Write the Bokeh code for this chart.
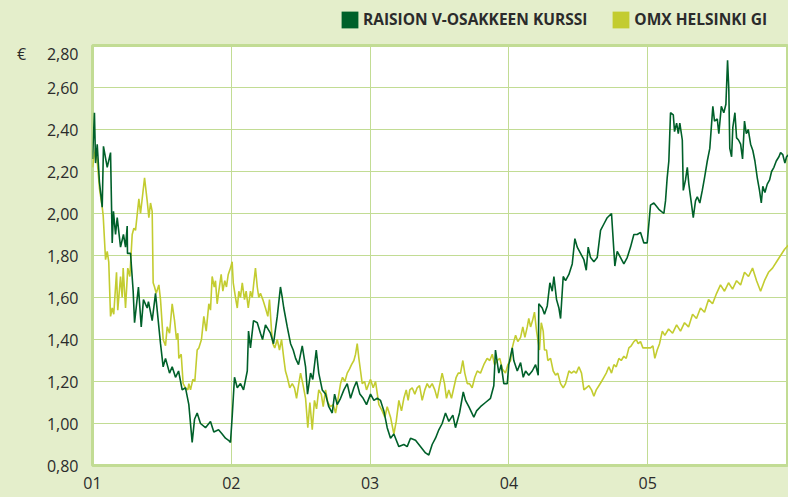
from bokeh.plotting import figure
from bokeh.layouts import column
from bokeh.models import (Range1d, FixedTicker, CustomJSTickFormatter, Legend, LegendItem)
from bokeh.embed import file_html
from bokeh.resources import INLINE

# --- data: time in years since start of 2001, prices in euro ---
raisio_t = [0.000, 0.014, 0.022, 0.034, 0.050, 0.070, 0.079, 0.106, 0.130, 0.142, 0.151, 0.166, 0.178,
            0.202, 0.223, 0.238, 0.250, 0.252, 0.274, 0.293, 0.303, 0.331, 0.351, 0.367, 0.394, 0.403,
            0.430, 0.454, 0.490, 0.509, 0.526, 0.555, 0.574, 0.598, 0.620, 0.646, 0.670, 0.694, 0.718,
            0.735, 0.754, 0.778, 0.814, 0.850, 0.874, 0.908, 0.934, 0.958, 0.980, 0.994, 1.006, 1.023,
            1.043, 1.066, 1.088, 1.115, 1.124, 1.138, 1.160, 1.187, 1.210, 1.225, 1.246, 1.282, 1.304,
            1.331, 1.354, 1.367, 1.378, 1.403, 1.427, 1.446, 1.463, 1.484, 1.511, 1.535, 1.549, 1.571,
            1.587, 1.612, 1.630, 1.655, 1.679, 1.702, 1.727, 1.744, 1.763, 1.787, 1.811, 1.835, 1.859,
            1.883, 1.902, 1.926, 1.950, 1.974, 2.003, 2.027, 2.051, 2.075, 2.099, 2.123, 2.147, 2.171,
            2.207, 2.243, 2.267, 2.291, 2.327, 2.351, 2.375, 2.399, 2.423, 2.447, 2.471, 2.495, 2.519,
            2.543, 2.567, 2.596, 2.615, 2.644, 2.671, 2.687, 2.711, 2.747, 2.767, 2.795, 2.831, 2.867,
            2.891, 2.903, 2.927, 2.944, 2.963, 2.988, 2.999, 3.024, 3.035, 3.060, 3.084, 3.103, 3.120,
            3.143, 3.168, 3.192, 3.211, 3.215, 3.240, 3.256, 3.276, 3.295, 3.312, 3.324, 3.343, 3.360,
            3.372, 3.391, 3.408, 3.432, 3.456, 3.475, 3.492, 3.516, 3.540, 3.557, 3.571, 3.588, 3.612,
            3.636, 3.660, 3.684, 3.708, 3.739, 3.763, 3.780, 3.804, 3.828, 3.852, 3.876, 3.900, 3.924,
            3.948, 3.972, 3.996, 4.020, 4.044, 4.080, 4.116, 4.128, 4.140, 4.152, 4.164, 4.184, 4.193,
            4.208, 4.220, 4.231, 4.249, 4.256, 4.272, 4.285, 4.296, 4.308, 4.328, 4.344, 4.357, 4.375,
            4.393, 4.409, 4.429, 4.447, 4.469, 4.481, 4.501, 4.512, 4.530, 4.548, 4.563, 4.575, 4.584,
            4.591, 4.604, 4.613, 4.628, 4.640, 4.654, 4.669, 4.683, 4.697, 4.710, 4.724, 4.741, 4.757,
            4.772, 4.789, 4.805, 4.818, 4.829, 4.844, 4.861, 4.878, 4.892, 4.909, 4.926, 4.945, 4.957,
            4.973, 4.988, 5.000, 5.014]
raisio_v = [2.26, 2.48, 2.24, 2.33, 2.15, 2.03, 2.32, 2.22, 2.29, 1.86, 2.01, 1.90, 1.98,
            1.84, 1.90, 1.84, 1.94, 1.81, 1.81, 1.63, 1.48, 1.65, 1.46, 1.59, 1.55, 1.58,
            1.49, 1.62, 1.38, 1.27, 1.31, 1.24, 1.27, 1.22, 1.25, 1.16, 1.17, 1.09, 0.91,
            1.02, 1.05, 1.00, 0.98, 1.01, 0.96, 0.97, 0.95, 0.93, 0.92, 0.91, 1.03, 1.22,
            1.17, 1.19, 1.16, 1.25, 1.44, 1.36, 1.49, 1.48, 1.43, 1.40, 1.47, 1.43, 1.38,
            1.51, 1.65, 1.60, 1.55, 1.46, 1.38, 1.35, 1.31, 1.28, 1.37, 1.27, 1.14, 1.24,
            1.21, 1.35, 1.24, 1.16, 1.14, 1.08, 1.05, 1.14, 1.09, 1.12, 1.16, 1.19, 1.12,
            1.17, 1.20, 1.14, 1.12, 1.09, 1.14, 1.11, 1.12, 1.11, 1.06, 0.98, 0.93, 0.95,
            0.89, 0.90, 0.89, 0.93, 0.92, 0.90, 0.88, 0.86, 0.85, 0.90, 0.93, 0.97, 1.00,
            1.05, 1.01, 1.04, 0.98, 1.05, 1.15, 1.11, 1.08, 1.03, 1.06, 1.08, 1.10, 1.12,
            1.18, 1.35, 1.24, 1.28, 1.19, 1.19, 1.28, 1.36, 1.30, 1.25, 1.29, 1.22, 1.25,
            1.23, 1.25, 1.28, 1.23, 1.57, 1.55, 1.52, 1.56, 1.67, 1.63, 1.70, 1.59, 1.55,
            1.50, 1.70, 1.68, 1.71, 1.76, 1.88, 1.84, 1.81, 1.78, 1.73, 1.84, 1.79, 1.77,
            1.79, 1.92, 1.95, 1.98, 2.00, 1.75, 1.82, 1.79, 1.76, 1.79, 1.84, 1.90, 1.90,
            1.91, 1.86, 1.86, 2.04, 2.05, 2.02, 2.00, 2.06, 2.17, 2.25, 2.48, 2.47, 2.39,
            2.43, 2.38, 2.43, 2.35, 2.11, 2.16, 2.22, 2.14, 2.08, 1.98, 2.06, 2.08, 2.05,
            2.11, 2.17, 2.25, 2.31, 2.51, 2.44, 2.45, 2.38, 2.51, 2.48, 2.52, 2.73, 2.59,
            2.31, 2.27, 2.41, 2.48, 2.36, 2.35, 2.33, 2.26, 2.44, 2.38, 2.40, 2.33, 2.30,
            2.25, 2.17, 2.11, 2.05, 2.13, 2.10, 2.14, 2.16, 2.20, 2.22, 2.25, 2.27, 2.29,
            2.28, 2.24, 2.27, 2.28]

omx_t = [0.000, 0.009, 0.022, 0.034, 0.050, 0.070, 0.077, 0.094, 0.106, 0.117, 0.130, 0.142, 0.153,
         0.173, 0.182, 0.202, 0.214, 0.221, 0.238, 0.254, 0.269, 0.286, 0.298, 0.310, 0.334, 0.346,
         0.375, 0.394, 0.406, 0.418, 0.430, 0.437, 0.447, 0.459, 0.478, 0.490, 0.509, 0.526, 0.538,
         0.555, 0.574, 0.591, 0.605, 0.615, 0.622, 0.639, 0.653, 0.670, 0.687, 0.694, 0.706, 0.723,
         0.737, 0.754, 0.766, 0.785, 0.802, 0.819, 0.838, 0.850, 0.862, 0.877, 0.886, 0.898, 0.910,
         0.927, 0.939, 0.953, 0.965, 0.978, 0.994, 1.006, 1.014, 1.030, 1.043, 1.054, 1.066, 1.079,
         1.095, 1.107, 1.122, 1.138, 1.151, 1.162, 1.174, 1.187, 1.198, 1.210, 1.227, 1.246, 1.263,
         1.275, 1.290, 1.299, 1.313, 1.331, 1.347, 1.362, 1.378, 1.390, 1.403, 1.421, 1.439, 1.455,
         1.470, 1.486, 1.499, 1.515, 1.535, 1.551, 1.566, 1.583, 1.599, 1.614, 1.630, 1.648, 1.662,
         1.679, 1.695, 1.715, 1.734, 1.751, 1.767, 1.787, 1.801, 1.818, 1.835, 1.852, 1.866, 1.883,
         1.895, 1.907, 1.919, 1.931, 1.943, 1.960, 1.974, 1.991, 2.003, 2.022, 2.039, 2.063, 2.087,
         2.106, 2.123, 2.147, 2.171, 2.188, 2.207, 2.226, 2.243, 2.260, 2.274, 2.286, 2.303, 2.322,
         2.339, 2.356, 2.375, 2.394, 2.411, 2.428, 2.447, 2.466, 2.483, 2.500, 2.519, 2.536, 2.550,
         2.567, 2.586, 2.603, 2.620, 2.635, 2.651, 2.668, 2.682, 2.700, 2.716, 2.735, 2.754, 2.772,
         2.795, 2.819, 2.843, 2.862, 2.880, 2.896, 2.916, 2.934, 2.952, 2.975, 2.992, 3.012, 3.024,
         3.035, 3.048, 3.064, 3.084, 3.100, 3.115, 3.132, 3.143, 3.156, 3.170, 3.184, 3.199, 3.208,
         3.220, 3.233, 3.247, 3.256, 3.271, 3.280, 3.300, 3.319, 3.336, 3.352, 3.372, 3.391, 3.408,
         3.432, 3.451, 3.468, 3.485, 3.504, 3.523, 3.540, 3.557, 3.576, 3.595, 3.612, 3.629, 3.648,
         3.667, 3.684, 3.701, 3.720, 3.739, 3.756, 3.773, 3.792, 3.809, 3.828, 3.845, 3.864, 3.881,
         3.900, 3.917, 3.931, 3.948, 3.965, 3.984, 4.003, 4.020, 4.037, 4.051, 4.068, 4.085, 4.105,
         4.123, 4.150, 4.179, 4.208, 4.236, 4.265, 4.294, 4.323, 4.351, 4.380, 4.409, 4.438, 4.467,
         4.496, 4.524, 4.553, 4.582, 4.611, 4.640, 4.669, 4.697, 4.726, 4.755, 4.784, 4.813, 4.841,
         4.870, 4.899, 4.928, 4.957, 4.986, 5.014]
omx_v = [2.22, 2.26, 2.31, 2.25, 2.12, 2.03, 1.99, 1.78, 1.82, 1.77, 1.51, 1.55, 1.52,
         1.72, 1.54, 1.70, 1.60, 1.74, 1.55, 1.74, 1.70, 1.90, 1.93, 1.92, 2.07, 2.00,
         2.17, 2.06, 1.98, 2.05, 2.01, 1.67, 1.65, 1.62, 1.66, 1.59, 1.40, 1.37, 1.46,
         1.43, 1.57, 1.49, 1.40, 1.43, 1.31, 1.33, 1.19, 1.17, 1.16, 1.19, 1.16, 1.21,
         1.20, 1.35, 1.36, 1.40, 1.51, 1.44, 1.57, 1.54, 1.70, 1.65, 1.68, 1.57, 1.63,
         1.71, 1.63, 1.68, 1.65, 1.71, 1.74, 1.77, 1.67, 1.60, 1.55, 1.63, 1.60, 1.67,
         1.59, 1.63, 1.55, 1.63, 1.60, 1.67, 1.74, 1.65, 1.60, 1.62, 1.59, 1.55, 1.51,
         1.59, 1.44, 1.38, 1.36, 1.40, 1.35, 1.40, 1.31, 1.25, 1.22, 1.17, 1.19, 1.17,
         1.12, 1.19, 1.24, 1.19, 1.12, 0.98, 1.10, 0.97, 1.11, 1.07, 1.16, 1.14, 1.08,
         1.16, 1.10, 1.08, 1.09, 1.05, 1.11, 1.19, 1.22, 1.20, 1.24, 1.26, 1.28, 1.30,
         1.33, 1.38, 1.31, 1.25, 1.19, 1.20, 1.16, 1.19, 1.21, 1.17, 1.20, 1.09, 1.06,
         1.03, 1.08, 1.03, 0.95, 1.01, 1.11, 1.06, 1.12, 1.16, 1.11, 1.16, 1.17, 1.14,
         1.17, 1.18, 1.11, 1.16, 1.19, 1.17, 1.19, 1.16, 1.12, 1.18, 1.24, 1.19, 1.12,
         1.16, 1.12, 1.17, 1.22, 1.24, 1.24, 1.30, 1.24, 1.19, 1.19, 1.17, 1.22, 1.25,
         1.24, 1.28, 1.31, 1.30, 1.33, 1.28, 1.30, 1.31, 1.26, 1.24, 1.28, 1.30, 1.36,
         1.39, 1.42, 1.39, 1.41, 1.46, 1.41, 1.46, 1.50, 1.46, 1.49, 1.53, 1.44, 1.40,
         1.35, 1.48, 1.44, 1.35, 1.35, 1.30, 1.31, 1.25, 1.23, 1.24, 1.19, 1.17, 1.19,
         1.25, 1.24, 1.25, 1.24, 1.27, 1.24, 1.16, 1.17, 1.18, 1.16, 1.13, 1.16, 1.18,
         1.20, 1.22, 1.24, 1.27, 1.24, 1.28, 1.27, 1.31, 1.30, 1.32, 1.31, 1.36, 1.37,
         1.39, 1.40, 1.38, 1.39, 1.36, 1.36, 1.36, 1.36, 1.37, 1.31, 1.35, 1.38, 1.44,
         1.42, 1.45, 1.43, 1.47, 1.44, 1.48, 1.46, 1.52, 1.50, 1.55, 1.53, 1.59, 1.57,
         1.62, 1.66, 1.63, 1.67, 1.64, 1.68, 1.66, 1.72, 1.70, 1.74, 1.68, 1.63, 1.68,
         1.72, 1.74, 1.77, 1.80, 1.83, 1.85]

year_ticks = [0, 1, 2, 3, 4]
year_labels = ["01", "02", "03", "04", "05"]
y_ticks = [0.8, 1.0, 1.2, 1.4, 1.6, 1.8, 2.0, 2.2, 2.4, 2.6, 2.8]
unit_label = "€"
series_names = ["RAISION V-OSAKKEEN KURSSI", "OMX HELSINKI GI"]

BG = "#e4eecb"
GRID = "#c2dc94"
DARK = "#00602a"
LIGHT = "#c3cc30"
TXT = "#2b2b2b"
NAN = float("nan")

# ---------------- legend strip ----------------
leg = figure(width=788, height=42, output_backend="svg", toolbar_location=None,
             x_range=Range1d(0, 1), y_range=Range1d(0, 1),
             min_border_left=92, min_border_right=0, min_border_top=0, min_border_bottom=0)
leg.axis.visible = False
leg.grid.visible = False
leg.outline_line_color = None
leg.background_fill_color = BG
leg.border_fill_color = BG
q1 = leg.quad(left=[NAN], right=[NAN], top=[NAN], bottom=[NAN], fill_color=DARK, line_color=None)
q2 = leg.quad(left=[NAN], right=[NAN], top=[NAN], bottom=[NAN], fill_color=LIGHT, line_color=None)
legend = Legend(items=[LegendItem(label=series_names[0], renderers=[q1]),
                       LegendItem(label=series_names[1], renderers=[q2])],
                orientation="horizontal", location=(247, 12),
                glyph_width=21, glyph_height=21, label_standoff=3, spacing=23,
                label_text_font="Open Sans", label_text_font_style="bold",
                label_text_font_size="15.5px", label_text_color=TXT,
                background_fill_alpha=0, border_line_color=None, padding=0, margin=0)
leg.add_layout(legend, "center")

# ---------------- main chart ----------------
p = figure(width=788, height=455, output_backend="svg", toolbar_location=None,
           x_range=Range1d(0, 5.014), y_range=Range1d(0.8, 2.8),
           min_border_left=92, min_border_right=0, min_border_top=3, min_border_bottom=32)
p.background_fill_color = "white"
p.border_fill_color = BG
p.outline_line_color = GRID
p.outline_line_width = 3

p.xaxis.ticker = FixedTicker(ticks=year_ticks)
p.xaxis.major_label_overrides = {t: l for t, l in zip(year_ticks, year_labels)}
p.yaxis.ticker = FixedTicker(ticks=y_ticks)
p.yaxis.formatter = CustomJSTickFormatter(
    args=dict(unit=unit_label, top=y_ticks[-1]),
    code="""
const s = tick.toFixed(2).replace('.', ',');
if (Math.abs(tick - top) < 1e-9) { return unit + '\\u00a0\\u00a0\\u00a0\\u00a0\\u00a0' + s; }
return s;
""")

for ax in (p.xaxis, p.yaxis):
    ax.axis_line_color = None
    ax.major_tick_line_color = None
    ax.minor_tick_line_color = None
    ax.major_label_text_font = "Open Sans"
    ax.major_label_text_font_size = "16px"
    ax.major_label_text_color = TXT
p.yaxis.major_label_standoff = 8
p.xaxis.major_label_standoff = 5

p.xgrid.ticker = FixedTicker(ticks=year_ticks)
p.ygrid.ticker = FixedTicker(ticks=y_ticks)
p.grid.grid_line_color = GRID
p.grid.grid_line_width = 1

p.line(omx_t, omx_v, line_color=LIGHT, line_width=1.6)
p.line(raisio_t, raisio_v, line_color=DARK, line_width=1.6)

layout = column(leg, p, spacing=0, styles={"background-color": BG})
open("out.html", "w").write(file_html(layout, INLINE))
